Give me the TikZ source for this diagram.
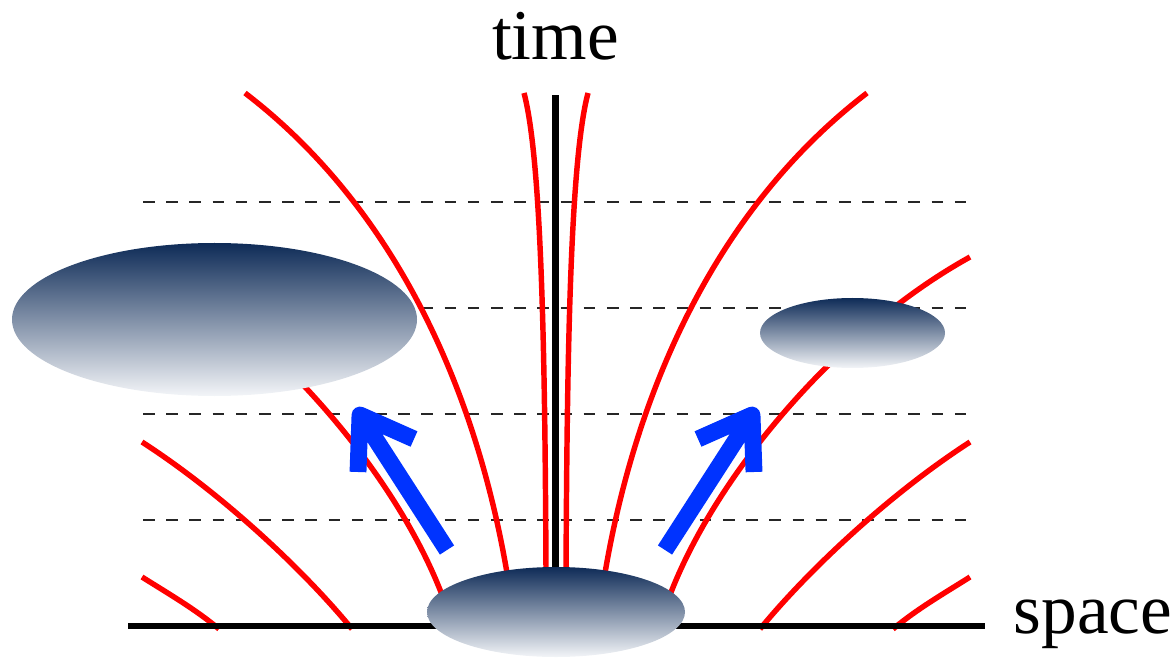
\documentclass[tikz,border=0pt]{standalone}
\usepackage{fontspec}
\setmainfont{Liberation Serif}
\usetikzlibrary{shapes.geometric,positioning}
\definecolor{blobtop}{RGB}{14,43,87}
\definecolor{blobbottom}{RGB}{243,245,248}
\definecolor{pushblue}{RGB}{0,51,255}

\begin{document}
\begin{tikzpicture}[
        blob/.style={ellipse, draw=none, inner sep=0pt, outer sep=0pt,
                     top color=blobtop, bottom color=blobbottom},
        world/.style={red, line width=1.55pt},
        slice/.style={black!85, line width=0.6pt, dash pattern=on 3.3pt off 3.3pt},
        axisline/.style={black, line width=1.8pt},
        push/.style={pushblue, line width=4.8pt, line join=round},
        lbl/.style={inner sep=0pt, font=\fontsize{20.3}{24}\selectfont}]
        \useasboundingbox (0,0) rectangle (11.76,6.61);
        \foreach \y in {1.41,2.47,3.53,4.59}
            \draw[slice] (1.43,\y) -- (9.70,\y);
        \foreach \s in {-1,1} {
            \draw[world] ({5.56+\s*0.10},0.88) .. controls ({5.56+\s*0.11},3.0) and ({5.56+\s*0.14},5.0) .. ({5.56+\s*0.32},5.68);
            \draw[world] ({5.56+\s*0.49},0.88) .. controls ({5.56+\s*0.75},2.41) and ({5.56+\s*1.44},4.40) .. ({5.56+\s*3.11},5.68);
            \draw[world] ({5.56+\s*1.11},0.58) .. controls ({5.56+\s*1.55},1.81) and ({5.56+\s*2.80},3.30) .. ({5.56+\s*4.14},4.04);
            \draw[world] ({5.56+\s*2.04},0.32) .. controls ({5.56+\s*2.55},0.94) and ({5.56+\s*3.365},1.69) .. ({5.56+\s*4.14},2.19);
            \draw[world] ({5.56+\s*3.37},0.32) .. controls ({5.56+\s*3.61},0.52) and ({5.56+\s*3.87},0.67) .. ({5.56+\s*4.14},0.84);
        }
        \coordinate (o) at (5.555,0.35);
        \coordinate (xa) at (1.28,0.35);
        \coordinate (xb) at (9.85,0.35);
        \coordinate (ta) at (5.555,5.66);
        \draw[axisline] (xa) -- (xb);
        \draw[axisline] (o) -- (ta);
        \coordinate (ltail) at (4.47,1.11);
        \coordinate (ltip)  at (3.60,2.46);
        \coordinate (la)    at (3.58,1.89);
        \coordinate (lb)    at (4.14,2.22);
        \coordinate (rtail) at (6.65,1.11);
        \coordinate (rtip)  at (7.52,2.46);
        \coordinate (ra)    at (7.54,1.89);
        \coordinate (rb)    at (6.98,2.22);
        \draw[push] (ltail) -- (ltip) (la) -- (ltip) -- (lb);
        \draw[push] (rtail) -- (rtip) (ra) -- (rtip) -- (rb);
        \node[blob, minimum width=4.05cm, minimum height=1.53cm] (wide)  at (2.145,3.415) {};
        \node[blob, minimum width=1.85cm, minimum height=0.70cm] (small) at (8.525,3.28) {};
        \node[blob, minimum width=2.58cm, minimum height=0.90cm] (base)  at (5.56,0.49) {};
        \node[lbl, anchor=base] (time) at (5.555,6.01) {time};
        \node[lbl, anchor=base west] (space) at (10.13,0.28) {space};
\end{tikzpicture}
\end{document}
